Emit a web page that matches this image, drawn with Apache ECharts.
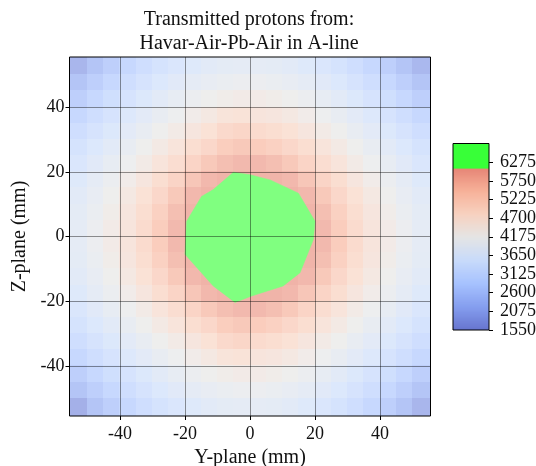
<!DOCTYPE html>
<html><head><meta charset="utf-8">
<script src="https://cdn.jsdelivr.net/npm/echarts@6/dist/echarts.min.js"></script>
<style>html,body{margin:0;padding:0;background:#fff}#chart{width:536px;height:466px}</style>
</head><body><div id="chart"></div>
<script>
// ---------------- data ----------------
const titleText = 'Transmitted protons from:\nHavar-Air-Pb-Air in A-line';
const xName = 'Y-plane (mm)';
const yName = 'Z-plane (mm)';
const axisTicks = [-40, -20, 0, 20, 40];
const colorbarTicks = [1550, 2075, 2600, 3125, 3650, 4175, 4700, 5225, 5750, 6275];
const xCenters = [-52.5,-47.5,-42.5,-37.5,-32.5,-27.5,-22.5,-17.5,-12.5,-7.5,-2.5,2.5,7.5,12.5,17.5,22.5,27.5,32.5,37.5,42.5,47.5,52.5];
const yCenters = [52.5,47.5,42.5,37.5,32.5,27.5,22.5,17.5,12.5,7.5,2.5,-2.5,-7.5,-12.5,-17.5,-22.5,-27.5,-32.5,-37.5,-42.5,-47.5,-52.5];
// proton counts per cell (rows: top to bottom, columns: left to right)
const counts = [
 [1950,2335,2625,2890,3115,3320,3485,3625,3740,3815,3855, 3855,3815,3740,3625,3485,3320,3115,2890,2625,2335,2000],
 [2335,2625,2895,3135,3345,3530,3700,3845,3960,4045,4090, 4090,4045,3960,3845,3700,3530,3345,3135,2895,2625,2335],
 [2625,2895,3145,3355,3560,3750,3925,4075,4205,4310,4365, 4365,4310,4205,4075,3925,3750,3560,3355,3145,2895,2625],
 [2890,3135,3355,3570,3775,3965,4150,4335,4490,4735,4780, 4680,4615,4490,4335,4150,3965,3775,3570,3355,3135,2890],
 [3115,3345,3560,3775,3975,4190,4410,4635,4820,5110,5190, 5040,4960,4820,4635,4410,4190,3975,3775,3560,3345,3115],
 [3320,3530,3750,3965,4190,4440,4710,4940,5150,5460,5585, 5485,5360,5150,4940,4710,4440,4190,3965,3750,3530,3320],
 [3485,3700,3925,4150,4410,4710,4975,5260,5570,5805,5930, 5930,5805,5570,5260,4975,4710,4410,4150,3925,3700,3485],
 [3625,3845,4075,4335,4635,4940,5260,5625,5945,6050,6080, 6080,6050,5945,5625,5260,4940,4635,4335,4075,3845,3625],
 [3740,3960,4205,4490,4820,5150,5570,5945,6080,6385,6500, 6500,6385,6080,5945,5570,5150,4820,4490,4205,3960,3740],
 [3815,4045,4310,4615,4960,5360,5805,6050,6385,6525,6650, 6650,6525,6385,6050,5805,5360,4960,4615,4310,4045,3815],
 [3855,4090,4365,4680,5040,5485,5930,6080,6500,6650,6740, 6740,6650,6500,6080,5930,5485,5040,4680,4365,4090,3855],
 [3855,4090,4365,4680,5040,5485,5930,6080,6500,6650,6740, 6740,6650,6500,6080,5930,5485,5040,4680,4365,4090,3855],
 [3815,4045,4310,4615,4960,5360,5805,6050,6385,6525,6650, 6650,6525,6385,6050,5805,5360,4960,4615,4310,4045,3815],
 [3740,3960,4205,4490,4820,5150,5570,5945,6080,6385,6500, 6500,6385,6080,5945,5570,5150,4820,4490,4205,3960,3740],
 [3625,3845,4075,4335,4635,4940,5260,5625,5945,6050,6080, 6080,6050,5945,5625,5260,4940,4635,4335,4075,3845,3625],
 [3485,3700,3925,4150,4410,4710,4975,5260,5570,5805,5930, 5930,5805,5570,5260,4975,4710,4410,4150,3925,3700,3485],
 [3320,3530,3750,3965,4190,4440,4710,4940,5150,5460,5585, 5485,5360,5150,4940,4710,4440,4190,3965,3750,3530,3320],
 [3115,3345,3560,3775,3975,4190,4410,4635,4820,5110,5190, 5040,4960,4820,4635,4410,4190,3975,3775,3560,3345,3115],
 [2890,3135,3355,3570,3775,3965,4150,4335,4490,4735,4780, 4680,4615,4490,4335,4150,3965,3775,3570,3355,3135,2890],
 [2625,2895,3145,3355,3560,3750,3925,4075,4205,4310,4365, 4365,4310,4205,4075,3925,3750,3560,3355,3145,2895,2625],
 [2335,2625,2895,3135,3345,3530,3700,3845,3960,4045,4090, 4090,4045,3960,3845,3700,3530,3345,3135,2895,2625,2335],
 [1800,2335,2625,2890,3115,3320,3485,3625,3740,3815,3855, 3855,3815,3740,3625,3485,3320,3115,2890,2625,2335,1950]
];
// boundary of the over-range (green) zone, mm
const overZoneY = [-5.1, 0.0, 6.2, 14.9, 20.0, 19.5, 15.4, 10.2, 0.5, -4.6, -11.3, -20.0, -19.5, -14.9, -11.3];
const overZoneZ = [19.9, 19.1, 17.5, 13.4, 4.7, -0.9, -11.2, -15.3, -18.4, -20.4, -15.3, -5.5, 4.7, 12.4, 14.5];
const cMin = 1550, cMax = 6800, overThreshold = 6100;

// ---------------- colour map ----------------
const coolwarmStops = [[0,[59,76,192]],[0.125,[98,130,234]],[0.25,[141,176,254]],[0.375,[184,208,249]],[0.5,[221,221,221]],[0.625,[245,196,173]],[0.75,[244,154,123]],[0.875,[222,96,77]],[1,[180,4,38]]];
function coolwarm(t){
  t = Math.max(0, Math.min(1, t));
  for (let i = 1; i < coolwarmStops.length; i++) {
    const [t1, c1] = coolwarmStops[i], [t0, c0] = coolwarmStops[i-1];
    if (t <= t1) { const f = (t - t0) / (t1 - t0); return c0.map((c, k) => c + (c1[k] - c) * f); }
  }
  return coolwarmStops[coolwarmStops.length-1][1];
}
function blend(rgb, a){ return 'rgb(' + rgb.map(c => Math.round(c * a + 255 * (1 - a))).join(',') + ')'; }
function buildColors(alpha){
  const arr = [];
  for (let v = cMin; v <= cMax + 1e-9; v += 25) {
    const rgb = v > overThreshold ? [0,255,0] : coolwarm((v - cMin) / (cMax - cMin));
    arr.push(blend(rgb, alpha));
  }
  return arr;
}

// ---------------- build series data ----------------
const cellData = [];
yCenters.forEach((y, r) => xCenters.forEach((x, c) => cellData.push([x, y, counts[r][c]])));
const polyData = overZoneY.map((y, i) => [y, overZoneZ[i], 0]);
const cbData = [];
for (let v = cMin; v < cMax; v += 10) cbData.push([0, v, v + 5]);

const FONT = "'Liberation Serif', 'DejaVu Serif', serif";
const TXT = '#111';
const XMIN = -55.5, XMAX = 55.5;
const plain = v => String(v);

const chart = echarts.init(document.getElementById('chart'), null, {renderer: 'canvas'});
chart.setOption({
  animation: false,
  backgroundColor: '#fff',
  title: {
    text: titleText, left: 244, top: 3, textAlign: 'center',
    textStyle: {fontFamily: FONT, fontSize: 20, fontWeight: 'normal', color: TXT, lineHeight: 24}
  },
  grid: [
    {left: 69.5, top: 57, width: 361, height: 359, show: true, borderColor: '#000', borderWidth: 1,
     backgroundColor: 'transparent', z: 10, containLabel: false, outerBoundsMode: 'none'},
    {left: 453, top: 143.5, width: 36, height: 186.5, show: true, borderColor: '#000', borderWidth: 1,
     backgroundColor: 'transparent', z: 10, containLabel: false, outerBoundsMode: 'none'}
  ],
  xAxis: [
    {type: 'value', gridIndex: 0, min: XMIN, max: XMAX, z: 5,
     axisLine: {show: false, onZero: false},
     axisTick: {show: true, customValues: axisTicks, length: 4, lineStyle: {color: '#000'}},
     axisLabel: {customValues: axisTicks, formatter: plain, margin: 9, fontFamily: FONT, fontSize: 18, color: TXT},
     splitLine: {show: true, lineStyle: {color: 'rgba(0,0,0,0.42)', width: 1}},
     name: xName, nameLocation: 'middle', nameGap: 31,
     nameTextStyle: {fontFamily: FONT, fontSize: 20, color: TXT}},
    {type: 'value', gridIndex: 1, min: 0, max: 1, show: false}
  ],
  yAxis: [
    {type: 'value', gridIndex: 0, min: XMIN, max: XMAX, z: 5,
     axisLine: {show: false, onZero: false},
     axisTick: {show: true, customValues: axisTicks, length: 4, lineStyle: {color: '#000'}},
     axisLabel: {customValues: axisTicks, formatter: plain, margin: 5, fontFamily: FONT, fontSize: 18, color: TXT},
     splitLine: {show: true, lineStyle: {color: 'rgba(0,0,0,0.42)', width: 1}},
     name: yName, nameLocation: 'middle', nameGap: 34,
     nameTextStyle: {fontFamily: FONT, fontSize: 20, color: TXT}},
    {type: 'value', gridIndex: 1, min: cMin, max: cMax, position: 'right', z: 5,
     axisLine: {show: false, onZero: false},
     axisTick: {show: true, customValues: colorbarTicks, length: 4, lineStyle: {color: '#000'}},
     axisLabel: {customValues: colorbarTicks, formatter: plain, margin: 11, fontFamily: FONT, fontSize: 18, color: TXT},
     splitLine: {show: false}}
  ],
  visualMap: [
    {type: 'continuous', show: false, seriesIndex: 0, dimension: 2, min: cMin, max: cMax, inRange: {color: buildColors(0.5)}},
    {type: 'continuous', show: false, seriesIndex: 2, dimension: 2, min: cMin, max: cMax, inRange: {color: buildColors(0.78)}}
  ],
  series: [
    {
      type: 'custom', xAxisIndex: 0, yAxisIndex: 0, z: 1, clip: true,
      data: cellData, encode: {x: 0, y: 1},
      renderItem: function (params, api) {
        const x = api.value(0), y = api.value(1);
        let x0 = x - 2.5, x1 = x + 2.5, y0 = y - 2.5, y1 = y + 2.5;
        if (x0 <= -55) x0 = XMIN; if (x1 >= 55) x1 = XMAX;
        if (y0 <= -55) y0 = XMIN; if (y1 >= 55) y1 = XMAX;
        const p0 = api.coord([x0, y1]), p1 = api.coord([x1, y0]);
        const l = Math.floor(p0[0]), t = Math.floor(p0[1]);
        const r = Math.ceil(p1[0]), b = Math.ceil(p1[1]);
        return {type: 'rect', shape: {x: l, y: t, width: r - l, height: b - t},
                style: {fill: api.visual('color')}};
      }
    },
    {
      type: 'custom', xAxisIndex: 0, yAxisIndex: 0, z: 2, clip: true,
      data: polyData, encode: {x: 0, y: 1},
      renderItem: function (params, api) {
        if (params.dataIndex !== 0) return null;
        const pts = [];
        for (let i = 0; i < polyData.length; i++) pts.push(api.coord([api.value(0, i), api.value(1, i)]));
        return {type: 'polygon', shape: {points: pts}, style: {fill: '#80ff80', stroke: '#80ff80', lineWidth: 0.5}};
      }
    },
    {
      type: 'custom', xAxisIndex: 1, yAxisIndex: 1, z: 1, clip: true,
      data: cbData, encode: {x: 0, y: 1},
      renderItem: function (params, api) {
        const v = api.value(1);
        const p0 = api.coord([0, Math.min(v + 10, cMax)]), p1 = api.coord([1, v]);
        const t = Math.floor(p0[1]), b = Math.ceil(p1[1]);
        return {type: 'rect', shape: {x: p0[0], y: t, width: p1[0] - p0[0], height: b - t},
                style: {fill: api.visual('color')}};
      }
    }
  ]
});
</script></body></html>
